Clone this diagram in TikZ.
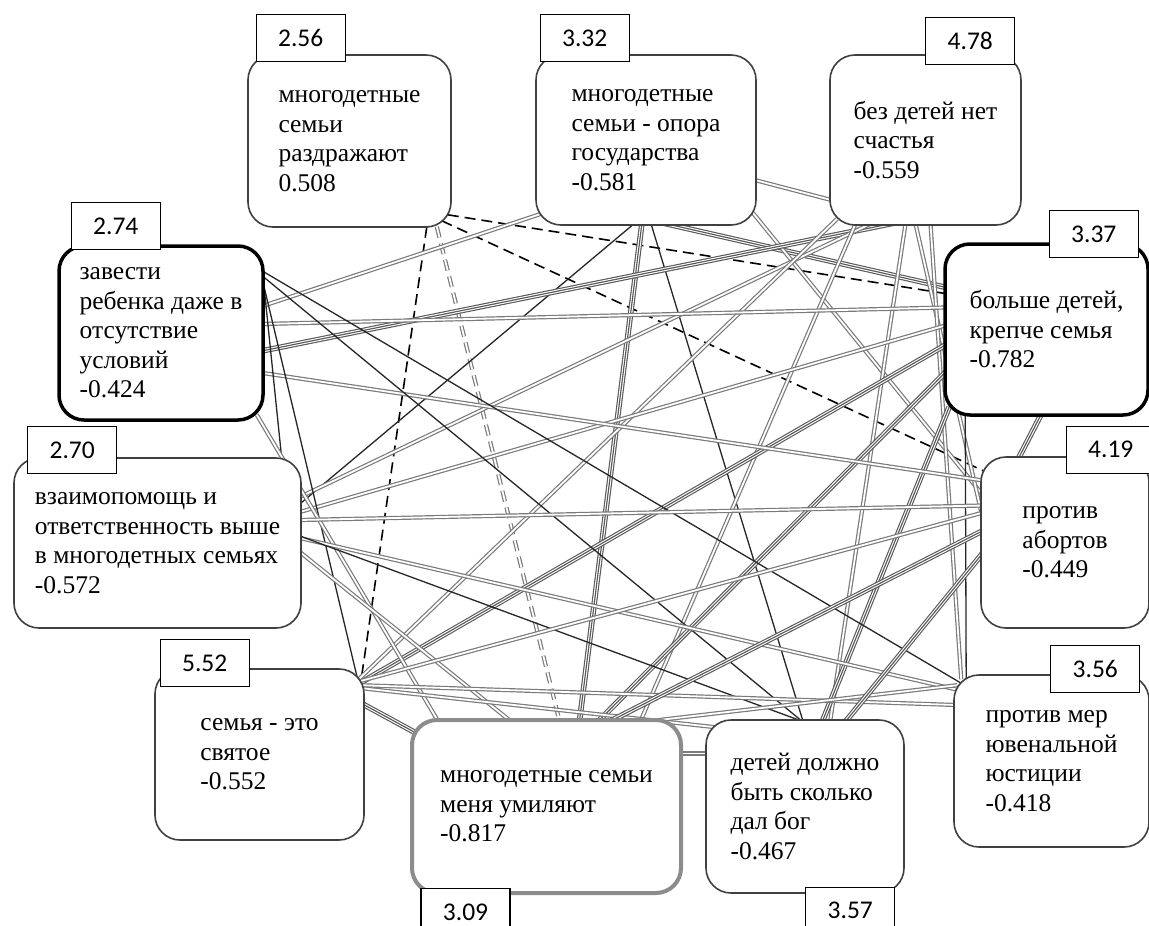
\documentclass[tikz,border=0pt]{standalone}
\usepackage{fontspec}
\setmainfont{Liberation Serif}
\newfontfamily\valfont{Carlito}
\pgfdeclarelayer{links}
\pgfsetlayers{links,main}

\begin{document}
\begin{tikzpicture}[x=1pt, y=-1pt,
	stmt/.style={draw=black!75, line width=1.6pt, rounded corners=25pt, fill=white, align=left, inner sep=0pt, font=\fontsize{25.5}{29.5}\selectfont},
	boldblk/.style={draw=black, line width=3.5pt},
	boldgry/.style={draw=black!45, line width=4pt},
	valbox/.style={draw=black, line width=1.2pt, fill=white, minimum width=89pt, minimum height=47pt, inner sep=0pt, font=\valfont\fontsize{25.5}{25.5}\selectfont},
	thinlink/.style={draw=black!85, line width=1.3pt},
	dbllink/.style={draw=black!52, line width=1.2pt, double=white, double distance=1.8pt},
	triplink/.style={draw=black!65, line width=1.15pt, preaction={draw=black!65, line width=5.6pt}, preaction={draw=white, line width=3.3pt}},
	neglink/.style={draw=black, line width=1.6pt, dash pattern=on 11pt off 6pt},
	negdbllink/.style={dbllink, dash pattern=on 11pt off 6pt}]

		\useasboundingbox (0,0) rectangle (1149,926);

		\node[stmt, minimum width=203pt, minimum height=172pt] (irrit) at (349.5,141) {многодетные\\семьи\\раздражают\\0.508};
		\node[stmt, minimum width=220pt, minimum height=170pt] (pillar) at (646,140) {многодетные\\семьи - опора\\государства\\-0.581};
		\node[stmt, minimum width=191pt, minimum height=170pt] (happy) at (925.5,140) {без детей нет\\счастья\\-0.559};
		\node[stmt, boldblk, minimum width=203pt, minimum height=171pt] (strong) at (1046.5,329.5) {больше детей,\\крепче семья\\-0.782};
		\node[stmt, minimum width=168pt, minimum height=171pt] (abort) at (1065,542.5) {против\\абортов\\-0.449};
		\node[stmt, minimum width=195pt, minimum height=172pt] (juven) at (1051.5,761) {против мер\\ювенальной\\юстиции\\-0.418};
		\node[stmt, minimum width=198pt, minimum height=173pt] (godgiven) at (805,806.5) {детей должно\\быть сколько\\дал бог\\-0.467};
		\node[stmt, boldgry, minimum width=269pt, minimum height=173pt] (touch) at (546.5,806.5) {многодетные семьи\\меня умиляют\\-0.817};
		\node[stmt, minimum width=209pt, minimum height=171pt] (holy) at (259.5,754.5) {семья - это\\святое\\-0.552};
		\node[stmt, minimum width=287pt, minimum height=170pt] (mutual) at (157.5,543) {взаимопомощь и\\ответственность выше\\в многодетных семьях\\-0.572};
		\node[stmt, boldblk, minimum width=204pt, minimum height=174pt] (anyway) at (161,333) {завести\\ребенка даже в\\отсутствие\\условий\\-0.424};

		% mean values
		\node[valbox] (virrit) at ([xshift=53.5pt,yshift=16pt]irrit.north west) {2.56};
		\node[valbox] (vpillar) at ([xshift=49.5pt,yshift=16pt]pillar.north west) {3.32};
		\node[valbox] (vhappy) at ([xshift=-51.5pt,yshift=13.5pt]happy.north east) {4.78};
		\node[valbox] (vstrong) at ([xshift=-56pt,yshift=8pt]strong.north east) {3.37};
		\node[valbox] (vabort) at ([xshift=-39pt,yshift=6.5pt]abort.north east) {4.19};
		\node[valbox] (vjuven) at ([xshift=-54.5pt,yshift=5.5pt]juven.north east) {3.56};
		\node[valbox] (vgodgiven) at ([xshift=-54.5pt,yshift=-17pt]godgiven.south east) {3.57};
		\node[valbox] (vtouch) at ([xshift=55.5pt,yshift=-17pt]touch.south west) {3.09};
		\node[valbox] (vholy) at ([xshift=50.5pt,yshift=5pt]holy.north west) {5.52};
		\node[valbox] (vmutual) at ([xshift=59pt,yshift=7pt]mutual.north west) {2.70};
		\node[valbox] (vanyway) at ([xshift=58.5pt,yshift=18pt]anyway.north west) {2.74};

		\begin{pgfonlayer}{links}
		% negative links
		\draw[neglink] ([xshift=-4pt,yshift=13pt]irrit.south east) -- ([xshift=2pt,yshift=36pt]strong.west);
		\draw[neglink] ([xshift=-10pt,yshift=7pt]irrit.south east) -- ([xshift=4pt,yshift=-15pt]abort.north west);
		\draw[neglink] ([xshift=-25pt,yshift=1pt]irrit.south east) -- ([xshift=-4pt,yshift=-14pt]holy.north east);
		\draw[negdbllink] ([xshift=-15pt,yshift=1pt]irrit.south east) -- ([xshift=13pt,yshift=-3pt]touch.north);

		\draw[triplink] ([xshift=-4pt,yshift=3pt]pillar.south) -- ([xshift=33pt,yshift=-3pt]touch.north);
		\draw[thinlink] ([xshift=-12pt,yshift=2pt]pillar.south) -- ([xshift=-2pt,yshift=39pt]mutual.east);
		\draw[thinlink] ([xshift=5pt,yshift=2pt]pillar.south) -- ([xshift=-2pt,yshift=-2pt]godgiven.north);
		\draw[triplink] ([xshift=16pt,yshift=3pt]pillar.south) -- ([xshift=3pt,yshift=42pt]strong.west);
		\draw[dbllink] ([xshift=9pt,yshift=13pt]pillar.south west) -- ([xshift=-2pt,yshift=27pt]anyway.east);
		\draw[dbllink] ([xshift=-2pt,yshift=-40pt]pillar.east) -- ([xshift=2pt,yshift=-60pt]happy.west);
		\draw[dbllink] ([xshift=-4pt,yshift=13pt]pillar.south east) -- ([xshift=3pt,yshift=47pt]abort.west);

		\draw[triplink] ([xshift=-30pt,yshift=3pt]happy.south) -- ([xshift=-3pt,yshift=-18pt]anyway.east);
		\draw[dbllink] ([xshift=-55pt,yshift=2pt]happy.south) -- ([xshift=-2pt,yshift=46pt]mutual.east);
		\draw[dbllink] ([xshift=8pt,yshift=7pt]happy.south west) -- ([xshift=-7pt,yshift=-12pt]holy.north east);
		\draw[dbllink] ([xshift=-70pt,yshift=2pt]happy.south) -- ([xshift=94pt,yshift=-3pt]touch.north);
		\draw[dbllink] ([xshift=-20pt,yshift=2pt]happy.south) -- ([xshift=25pt,yshift=-3pt]godgiven.north);
		\draw[dbllink] ([xshift=-10pt,yshift=2pt]happy.south) -- ([xshift=3pt,yshift=22pt]abort.west);
		\draw[dbllink] ([xshift=5pt,yshift=2pt]happy.south) -- ([xshift=8pt,yshift=-5pt]juven.north west);

		\draw[dbllink] ([xshift=2pt,yshift=22pt]strong.west) -- ([xshift=-2pt,yshift=9pt]anyway.east);
		\draw[dbllink] ([xshift=2pt,yshift=4pt]strong.west) -- ([xshift=-2pt,yshift=31pt]mutual.east);
		\draw[triplink] ([xshift=3pt,yshift=-15pt]strong.west) -- ([xshift=-5pt,yshift=-15pt]holy.north east);
		\draw[triplink] ([xshift=3pt,yshift=-42pt]strong.west) -- ([xshift=52pt,yshift=-3pt]touch.north);
		\draw[triplink] ([xshift=6pt,yshift=10pt]strong.south west) -- ([xshift=17pt,yshift=-3pt]godgiven.north);
		\draw[triplink] ([xshift=-5pt,yshift=3pt]strong.south) -- ([xshift=-47pt,yshift=-3pt]abort.north);
		\draw[thinlink] ([xshift=22pt,yshift=2pt]strong.south west) -- ([xshift=13pt,yshift=-10pt]juven.north west);

		\draw[dbllink] ([xshift=-2pt,yshift=-40pt]anyway.east) -- ([xshift=3pt,yshift=62pt]abort.west);
		\draw[thinlink] ([xshift=-2pt,yshift=-27pt]anyway.north east) -- ([xshift=8pt,yshift=-9pt]juven.north west);
		\draw[thinlink] ([xshift=-2pt,yshift=-32pt]anyway.north east) -- ([xshift=-3pt,yshift=-2pt]godgiven.north);
		\draw[thinlink] ([xshift=-2pt,yshift=-37pt]anyway.north east) -- ([xshift=-6pt,yshift=-16pt]holy.north east);
		\draw[thinlink] ([xshift=-2pt,yshift=-30pt]anyway.north east) -- ([xshift=-20pt,yshift=-2pt]mutual.north east);
		\draw[dbllink] ([xshift=-8pt,yshift=7pt]anyway.south east) -- ([xshift=28pt,yshift=-3pt]touch.north west);

		\draw[dbllink] ([xshift=-2pt,yshift=5pt]mutual.east) -- ([xshift=2pt,yshift=-15pt]juven.north west);
		\draw[thinlink] ([xshift=-2pt,yshift=7pt]mutual.east) -- ([xshift=-3pt,yshift=-2pt]godgiven.north);
		\draw[dbllink] ([xshift=-2pt,yshift=23pt]mutual.east) -- ([xshift=3pt,yshift=37pt]abort.west);
		\draw[dbllink] ([xshift=-2pt,yshift=-9pt]mutual.east) -- ([xshift=-36pt,yshift=-3pt]touch.north);

		\draw[triplink] ([xshift=-3pt,yshift=51pt]holy.east) -- ([xshift=6pt,yshift=-15pt]touch.north west);
		\draw[dbllink] ([xshift=-5pt,yshift=-13pt]holy.north east) -- ([xshift=3pt,yshift=30pt]abort.west);
		\draw[dbllink] ([xshift=-4pt,yshift=-17pt]holy.north east) -- ([xshift=3pt,yshift=56pt]juven.west);
		\draw[dbllink] ([xshift=-3pt,yshift=-20pt]holy.north east) -- ([xshift=10pt,yshift=-8pt]godgiven.north west);

		\draw[dbllink] ([xshift=-2pt,yshift=53pt]touch.east) -- ([xshift=2pt,yshift=53pt]godgiven.west);
		\draw[triplink] ([xshift=64pt,yshift=-3pt]touch.north) -- ([xshift=3pt,yshift=12pt]abort.west);
		\draw[dbllink] ([xshift=104pt,yshift=-3pt]touch.north) -- ([xshift=4pt,yshift=-11pt]juven.north west);

		\draw[triplink] ([xshift=40pt,yshift=-3pt]godgiven.north) -- ([xshift=3pt,yshift=-10pt]abort.west);
		\end{pgfonlayer}
\end{tikzpicture}
\end{document}
